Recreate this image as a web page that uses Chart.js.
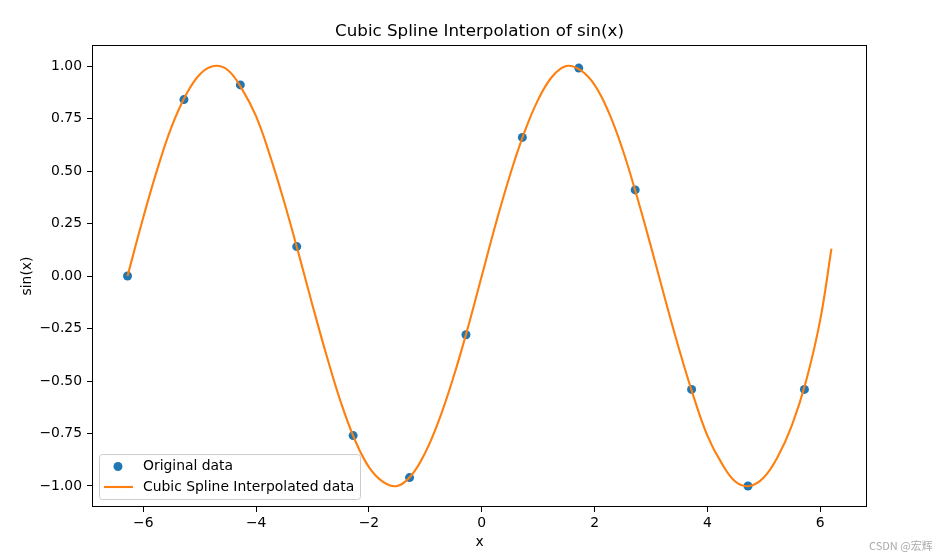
<!DOCTYPE html>
<html>
<head>
<meta charset="utf-8">
<script src="https://cdn.jsdelivr.net/npm/chart.js@4"></script>
<style>
body{margin:0;background:#fff;}
#wrap{position:relative;width:952px;height:560px;}
#mark{position:absolute;left:869px;top:537px;font:11px 'Noto Sans CJK SC', sans-serif;color:#aaa;white-space:nowrap;}
</style>
</head>
<body>
<div id="wrap">
  <canvas id="chart" width="952" height="560"></canvas>
  <div id="mark">CSDN @宏辉</div>
</div>
<script>
// Original samples
let dataX = [-6.28, -5.28, -4.28, -3.28, -2.28, -1.28, -0.28, 0.72, 1.72, 2.72, 3.72, 4.72, 5.72];
let dataY = [0.00, 0.84, 0.91, 0.14, -0.76, -0.96, -0.28, 0.66, 0.99, 0.41, -0.54, -1.00, -0.54];

// Spline curve
let splineX = [-6.28, -6.0, -5.75, -5.5, -5.25, -5.0, -4.75, -4.5, -4.25, -4.0, -3.75, -3.5, -3.25, -3.0,
  -2.75, -2.5, -2.25, -2.0, -1.75, -1.5, -1.25, -1.0, -0.75, -0.5, -0.25, 0.0, 0.25, 0.5, 0.75, 1.0,
  1.25, 1.5, 1.75, 2.0, 2.25, 2.5, 2.75, 3.0, 3.25, 3.5, 3.75, 4.0, 4.25, 4.5, 4.75, 5.0, 5.25, 5.5,
  5.75, 6.0, 6.2];
let splineY = [0.00, 0.28, 0.51, 0.71, 0.86, 0.96, 1.00, 0.98, 0.89, 0.76, 0.57, 0.35, 0.11, -0.14,
  -0.38, -0.60, -0.78, -0.91, -0.98, -1.00, -0.95, -0.84, -0.68, -0.48, -0.25, 0.00, 0.25, 0.48, 0.68, 0.84,
  0.95, 1.00, 0.98, 0.91, 0.78, 0.60, 0.38, 0.14, -0.11, -0.35, -0.57, -0.76, -0.89, -0.98, -1.00, -0.96, -0.86, -0.71,
  -0.50, -0.21, 0.13];

let xTicks = [-6, -4, -2, 0, 2, 4, 6];
let yTicks = [-1.00, -0.75, -0.50, -0.25, 0.00, 0.25, 0.50, 0.75, 1.00];

let titleText = "Cubic Spline Interpolation of sin(x)";
let xLabel = "x";
let yLabel = "sin(x)";

const FONT = "'DejaVu Sans', sans-serif";
const blue = "#1f77b4", orange = "#ff7f0e";

function fmt(v, d){
    let s = v.toFixed(d);
    return s.replace("-", "\u2212");
}

// frame, titles and legend like matplotlib
const decor = {
    id: "decor",
    afterDraw(chart){
        const ctx = chart.ctx, a = chart.chartArea;
        ctx.save();
        ctx.strokeStyle = "#000";
        ctx.lineWidth = 1;
        ctx.strokeRect(Math.round(a.left) + 0.5, Math.round(a.top) + 0.5,
            Math.round(a.right - a.left) - 1, Math.round(a.bottom - a.top) - 1);

        ctx.fillStyle = "#000";
        ctx.textBaseline = "middle";
        ctx.textAlign = "center";
        ctx.font = "16.7px " + FONT;
        ctx.fillText(titleText, (a.left + a.right) / 2, a.top - 13);
        ctx.font = "13.9px " + FONT;
        ctx.fillText(xLabel, (a.left + a.right) / 2, a.bottom + 35);
        ctx.save();
        ctx.translate(27, (a.top + a.bottom) / 2);
        ctx.rotate(-Math.PI / 2);
        ctx.fillText(yLabel, 0, 0);
        ctx.restore();

        // legend box
        let bx = a.left + 7.5, by = a.bottom - 52.5;
        ctx.beginPath();
        ctx.roundRect(bx, by, 261, 45, 3);
        ctx.fillStyle = "rgba(255,255,255,0.8)";
        ctx.fill();
        ctx.strokeStyle = "#cccccc";
        ctx.stroke();

        let ds = chart.data.datasets;
        ctx.fillStyle = blue;
        ctx.beginPath();
        ctx.arc(bx + 18.5, by + 12, 4.5, 0, Math.PI * 2);
        ctx.fill();
        ctx.strokeStyle = orange;
        ctx.lineWidth = 2.1;
        ctx.beginPath();
        ctx.moveTo(bx + 4.5, by + 32.5);
        ctx.lineTo(bx + 33.5, by + 32.5);
        ctx.stroke();

        ctx.fillStyle = "#000";
        ctx.textAlign = "left";
        ctx.font = "13.9px " + FONT;
        ctx.fillText(ds[0].label, bx + 43.5, by + 12);
        ctx.fillText(ds[1].label, bx + 43.5, by + 32.5);
        ctx.restore();
    }
};

Chart.defaults.color = "#000";
Chart.defaults.font.family = FONT;
Chart.defaults.font.size = 13.9;

new Chart(document.getElementById("chart").getContext("2d"), {
    type: "scatter",
    data: {
        datasets: [
            {
                label: "Original data",
                data: dataX.map((x, i) => ({x: x, y: dataY[i]})),
                backgroundColor: blue,
                borderColor: blue,
                pointRadius: 4.5,
                pointBorderWidth: 0,
                order: 2
            },
            {
                label: "Cubic Spline Interpolated data",
                data: splineX.map((x, i) => ({x: x, y: splineY[i]})),
                showLine: true,
                borderColor: orange,
                backgroundColor: orange,
                borderWidth: 2.1,
                pointRadius: 0,
                tension: 0.4,
                order: 1
            }
        ]
    },
    options: {
        responsive: false,
        animation: false,
        layout: {padding: {left: 0, top: 45, right: 85, bottom: 0}},
        plugins: {legend: {display: false}, tooltip: {enabled: false}},
        scales: {
            x: {
                type: "linear",
                min: -6.91, max: 6.83,
                afterBuildTicks: s => { s.ticks = xTicks.map(v => ({value: v})); },
                afterFit: s => { s.height = 53; },
                ticks: {callback: v => fmt(v, 0), padding: 3, maxRotation: 0, autoSkip: false},
                grid: {drawOnChartArea: false, drawTicks: true, tickLength: 5, color: "#000", tickWidth: 1},
                border: {display: false}
            },
            y: {
                type: "linear",
                min: -1.1, max: 1.1,
                afterBuildTicks: s => { s.ticks = yTicks.map(v => ({value: v})); },
                afterFit: s => { s.width = 92; },
                ticks: {callback: v => fmt(v, 2), padding: 5, autoSkip: false},
                grid: {drawOnChartArea: false, drawTicks: true, tickLength: 5, color: "#000", tickWidth: 1},
                border: {display: false}
            }
        }
    },
    plugins: [decor]
});
</script>
</body>
</html>
